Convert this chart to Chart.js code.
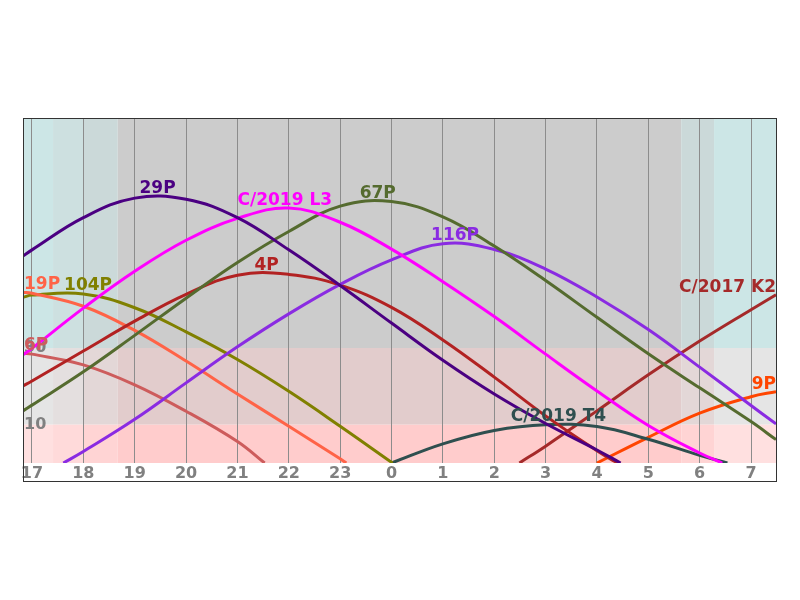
<!DOCTYPE html>
<html>
<head>
<meta charset="utf-8">
<script src="https://cdn.jsdelivr.net/npm/chart.js@4"></script>
<style>
  html, body { margin: 0; padding: 0; background: #fff; }
  canvas { display: block; }
</style>
</head>
<body>
<canvas id="altChart" width="800" height="600"></canvas>
<script>
// hours run on past midnight (24 = 0h, 31 = 7h)
const xMin = 16.825;
const xMax = 31.486;
const hourTicks = [17, 18, 19, 20, 21, 22, 23, 24, 25, 26, 27, 28, 29, 30, 31];
const hourLabels = ['17', '18', '19', '20', '21', '22', '23', '0', '1', '2', '3', '4', '5', '6', '7'];
const altTicks = [10, 30];
const altLabels = ['10', '30'];

// twilight edges (hours) and altitude band edges (deg)
const twilightHours = [17.41, 18.0, 18.67, 29.64, 30.28];
const altBands = [10, 30];

const hours29P = [16.825, 17, 18, 19, 20, 21, 22, 23, 24, 25, 26, 27, 28, 28.46];
const alt29P   = [54.0, 55.6, 64.0, 69.1, 68.8, 64.0, 55.6, 46.3, 36.5, 26.8, 18.0, 10.3, 3.4, 0];

const hoursL3 = [16.825, 17, 18, 19, 20, 21, 22, 23, 24, 25, 26, 27, 28, 29, 30, 30.44];
const altL3   = [28.2, 29.9, 40.4, 50.0, 58.1, 63.8, 66.5, 62.8, 55.8, 47.3, 38.2, 28.4, 18.8, 9.8, 2.6, 0];

const hours67P = [16.825, 17, 18, 19, 20, 21, 22, 23, 24, 25, 26, 27, 28, 29, 30, 31, 31.486];
const alt67P   = [13.6, 15.1, 23.8, 33.3, 43.0, 52.3, 60.4, 67.0, 68.2, 64.2, 56.6, 47.6, 38.0, 28.5, 19.6, 10.8, 6.1];

const hours116P = [17.61, 18, 19, 20, 21, 22, 23, 24, 25, 26, 27, 28, 29, 30, 31, 31.486];
const alt116P   = [0, 3.0, 11.4, 20.9, 30.3, 38.9, 46.6, 53.0, 57.2, 55.7, 50.6, 43.3, 34.8, 25.0, 15.0, 10.2];

const hours4P = [16.825, 17, 18, 19, 20, 21, 22, 23, 24, 25, 26, 27, 28, 28.4];
const alt4P   = [20.1, 21.4, 29.2, 37.0, 44.0, 49.0, 49.2, 46.4, 40.6, 32.1, 22.4, 12.3, 3.2, 0];

const hours19P = [16.825, 17, 18, 19, 20, 21, 22, 23, 23.12];
const alt19P   = [44.5, 44.3, 40.9, 34.6, 26.6, 18.0, 9.6, 1.1, 0];

const hours104P = [16.825, 17, 18, 19, 20, 21, 22, 23, 24.02];
const alt104P   = [43.2, 43.8, 44.1, 40.5, 34.2, 27.0, 18.7, 9.6, 0];

const hours6P = [16.825, 17, 18, 19, 20, 21, 21.53];
const alt6P   = [28.6, 28.4, 25.6, 20.4, 13.5, 5.6, 0];

const hoursT4 = [24.0, 25, 26, 27, 28, 29, 30, 30.54];
const altT4   = [0, 5.0, 8.5, 10.0, 9.5, 6.2, 2.0, 0];

const hoursK2 = [26.49, 27, 28, 29, 30, 31, 31.486];
const altK2   = [0, 4.4, 13.6, 23.0, 31.8, 40.0, 43.9];

const hours9P = [28.0, 29, 30, 31, 31.486];
const alt9P   = [0, 6.7, 13.0, 17.3, 18.6];

const comets = [
  { name: '29P',        hours: hours29P,  alt: alt29P,  color: '#4b0082' },
  { name: 'C/2019 L3',  hours: hoursL3,   alt: altL3,   color: '#ff00ff' },
  { name: '67P',        hours: hours67P,  alt: alt67P,  color: '#556b2f' },
  { name: '116P',       hours: hours116P, alt: alt116P, color: '#8a2be2' },
  { name: '4P',         hours: hours4P,   alt: alt4P,   color: '#b22222' },
  { name: '19P',        hours: hours19P,  alt: alt19P,  color: '#ff6347' },
  { name: '104P',       hours: hours104P, alt: alt104P, color: '#808000' },
  { name: '6P',         hours: hours6P,   alt: alt6P,   color: '#cd5c5c' },
  { name: 'C/2019 T4',  hours: hoursT4,   alt: altT4,   color: '#2f4f4f' },
  { name: 'C/2017 K2',  hours: hoursK2,   alt: altK2,   color: '#a52a2a' },
  { name: '9P',         hours: hours9P,   alt: alt9P,   color: '#ff4500' }
];

// band colours: columns = civil, nautical, astronomical, night, astronomical, civil
const bandRows = [
  { lo: altBands[1], hi: 90,          cols: ['#cce6e6', '#cde0e0', '#cbd9d9', '#cccccc', '#cbd9d9', '#cce6e6'] },
  { lo: altBands[0], hi: altBands[1], cols: ['#e5e5e5', '#e4dfdf', '#e3d7d7', '#e2cccc', '#e3d7d7', '#e5e5e5'] },
  { lo: 0,           hi: altBands[0], cols: ['#ffe0e0', '#ffdada', '#ffd4d4', '#ffcccc', '#ffd4d4', '#ffe0e0'] }
];

const bandsPlugin = {
  id: 'bands',
  beforeDraw(chart) {
    const { ctx, scales: { x, y } } = chart;
    ctx.save();
    ctx.fillStyle = '#fff';
    ctx.fillRect(0, 0, chart.width, chart.height);
    const edges = [xMin, ...twilightHours, xMax];
    bandRows.forEach(row => {
      const top = y.getPixelForValue(row.hi);
      const bot = y.getPixelForValue(row.lo);
      for (let i = 0; i < edges.length - 1; i++) {
        const l = x.getPixelForValue(edges[i]);
        const r = x.getPixelForValue(edges[i + 1]);
        ctx.fillStyle = row.cols[i];
        ctx.fillRect(l, top, r - l, bot - top);
      }
    });
    ctx.restore();
  },
  afterDraw(chart) {
    const { ctx, chartArea } = chart;
    ctx.save();
    ctx.strokeStyle = '#333';
    ctx.lineWidth = 1;
    ctx.strokeRect(chartArea.left + 0.5, chartArea.top + 0.5,
      chartArea.right - chartArea.left, 481 - chartArea.top);
    ctx.restore();
  }
};

// top of the curve: parabola through the highest sample and its neighbours
function peakOf(hours, alt) {
  let k = 0;
  alt.forEach((a, i) => { if (a > alt[k]) k = i; });
  if (k === 0 || k === alt.length - 1) return { h: hours[k], a: alt[k] };
  const [x0, x1, x2] = [hours[k - 1], hours[k], hours[k + 1]];
  const [y0, y1, y2] = [alt[k - 1], alt[k], alt[k + 1]];
  const d = (x0 - x1) * (x0 - x2) * (x1 - x2);
  const A = (x2 * (y1 - y0) + x1 * (y0 - y2) + x0 * (y2 - y1)) / d;
  const B = (x2 * x2 * (y0 - y1) + x1 * x1 * (y2 - y0) + x0 * x0 * (y1 - y2)) / d;
  const C = (x1 * x2 * (x1 - x2) * y0 + x2 * x0 * (x2 - x0) * y1 + x0 * x1 * (x0 - x1) * y2) / d;
  const h = -B / (2 * A);
  return { h, a: A * h * h + B * h + C };
}

// name each curve at its highest point, kept inside the frame
const labelPlugin = {
  id: 'curveLabels',
  afterDatasetsDraw(chart) {
    const { ctx, chartArea, scales: { x, y } } = chart;
    ctx.save();
    ctx.font = 'bold 17px "DejaVu Sans"';
    ctx.textBaseline = 'alphabetic';
    ctx.textAlign = 'left';
    const placed = [];
    comets.forEach(c => {
      const pk = peakOf(c.hours, c.alt);
      const px = x.getPixelForValue(pk.h);
      const py = y.getPixelForValue(pk.a);
      const w = ctx.measureText(c.name).width;
      let left = px - w / 2;
      left = Math.max(left, chartArea.left + 1);
      left = Math.min(left, chartArea.right - w);
      const base = py - 3;
      placed.forEach(p => {
        if (left < p.right && left + w > p.left && base - 13 < p.base && base > p.base - 13) {
          left = p.right + 4;
        }
      });
      ctx.fillStyle = c.color;
      ctx.fillText(c.name, left, base);
      placed.push({ left, right: left + w, base });
    });
    ctx.restore();
  }
};

const tickFont = { family: 'DejaVu Sans', weight: 'bold', size: 16 };

const ctx = document.getElementById('altChart').getContext('2d');
new Chart(ctx, {
  type: 'line',
  data: {
    datasets: comets.map(c => ({
      label: c.name,
      data: c.hours.map((h, i) => ({ x: h, y: c.alt[i] })),
      borderColor: c.color,
      borderWidth: 3,
      pointRadius: 0,
      fill: false,
      tension: 0.4
    }))
  },
  options: {
    responsive: false,
    animation: false,
    layout: { padding: { left: 23, right: 24, top: 118, bottom: 119 } },
    plugins: { legend: { display: false }, tooltip: { enabled: false } },
    scales: {
      x: {
        type: 'linear',
        min: xMin,
        max: xMax,
        afterBuildTicks: s => { s.ticks = hourTicks.map(v => ({ value: v })); },
        afterFit: s => { s.height = 18; },
        grid: { color: '#8c8c8c', lineWidth: 1, drawTicks: false },
        border: { display: false },
        ticks: {
          autoSkip: false, maxRotation: 0, padding: 1,
          color: '#808080', font: tickFont,
          callback: (v, i) => hourLabels[i]
        }
      },
      y: {
        min: 0,
        max: 90,
        afterBuildTicks: s => { s.ticks = altTicks.map(v => ({ value: v })); },
        afterFit: s => { s.width = 0; },
        grid: { display: false },
        border: { display: false },
        ticks: {
          mirror: true, padding: 1,
          color: '#808080', font: tickFont,
          callback: (v, i) => altLabels[i]
        }
      }
    }
  },
  plugins: [bandsPlugin, labelPlugin]
});
</script>
</body>
</html>
